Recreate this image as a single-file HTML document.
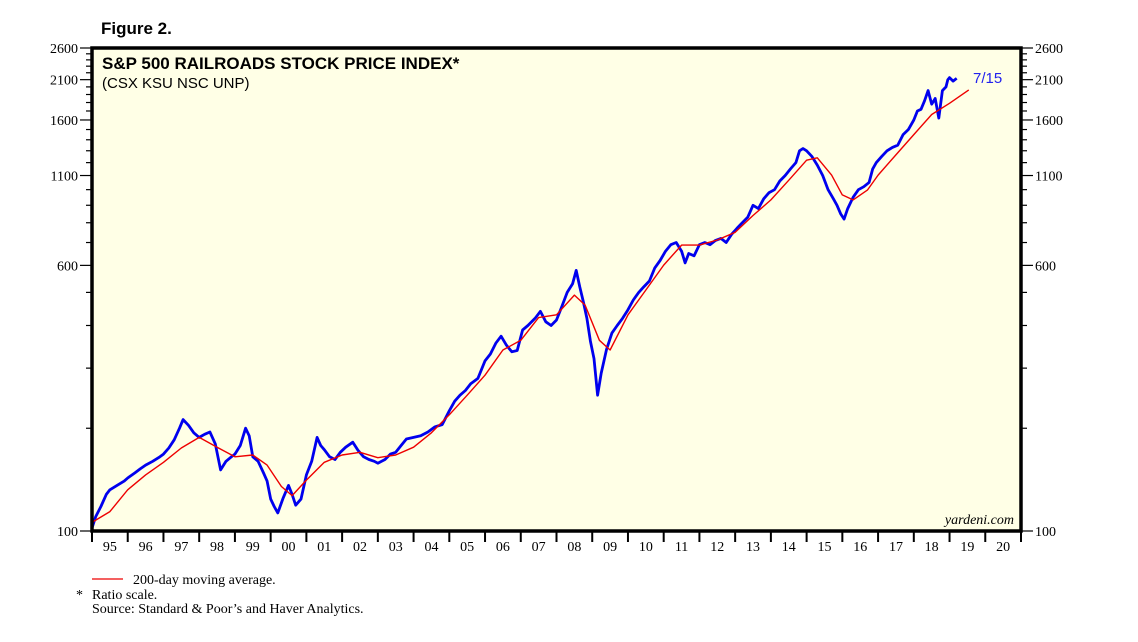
<!DOCTYPE html>
<html><head><meta charset="utf-8"><style>
body{margin:0;background:#fff;}
svg text{font-family:"Liberation Serif",serif;}
</style></head><body>
<svg width="1138" height="637" viewBox="0 0 1138 637">
<rect x="0" y="0" width="1138" height="637" fill="#fff"/>
<g id="g"></g>
</svg>
<script>
const blueDates=[1995.0,1995.1,1995.25,1995.4,1995.5,1995.7,1995.9,1996.0,1996.2,1996.35,1996.5,1996.7,1996.9,1997.0,1997.15,1997.3,1997.45,1997.55,1997.7,1997.85,1998.0,1998.15,1998.3,1998.45,1998.6,1998.75,1998.9,1999.0,1999.15,1999.3,1999.4,1999.5,1999.65,1999.8,1999.9,2000.0,2000.1,2000.2,2000.35,2000.5,2000.6,2000.7,2000.85,2001.0,2001.15,2001.3,2001.4,2001.5,2001.65,2001.8,2001.95,2002.1,2002.3,2002.45,2002.6,2002.75,2002.9,2003.0,2003.2,2003.35,2003.5,2003.65,2003.8,2004.0,2004.2,2004.4,2004.6,2004.8,2005.0,2005.15,2005.3,2005.45,2005.6,2005.8,2006.0,2006.15,2006.3,2006.45,2006.6,2006.75,2006.9,2007.05,2007.2,2007.4,2007.55,2007.7,2007.85,2008.0,2008.15,2008.3,2008.45,2008.55,2008.65,2008.75,2008.85,2008.95,2009.05,2009.15,2009.25,2009.4,2009.55,2009.7,2009.85,2010.0,2010.15,2010.3,2010.45,2010.6,2010.75,2010.9,2011.05,2011.2,2011.35,2011.5,2011.6,2011.7,2011.85,2012.0,2012.15,2012.3,2012.45,2012.6,2012.75,2012.9,2013.05,2013.2,2013.35,2013.5,2013.65,2013.8,2013.95,2014.1,2014.25,2014.4,2014.55,2014.7,2014.8,2014.9,2015.0,2015.15,2015.3,2015.45,2015.6,2015.75,2015.85,2015.95,2016.05,2016.15,2016.3,2016.45,2016.6,2016.75,2016.85,2016.95,2017.1,2017.25,2017.4,2017.55,2017.7,2017.85,2018.0,2018.1,2018.2,2018.3,2018.4,2018.5,2018.6,2018.7,2018.8,2018.9,2018.95,2019.0,2019.1,2019.2,2019.3,2019.4,2019.54];
const blueValues=[102,110,118,128,132,136,140,143,148,152,156,160,165,168,175,185,200,212,204,194,188,192,195,180,151,160,165,168,178,200,190,165,160,148,140,124,118,113,125,136,128,119,124,146,160,188,178,173,165,162,170,176,182,172,165,162,160,158,162,168,170,178,186,188,190,195,202,205,225,240,250,258,270,280,315,330,355,372,350,335,338,388,400,420,440,410,400,415,455,500,530,580,520,470,420,360,320,250,290,340,380,400,420,445,475,500,520,540,590,620,660,690,700,660,610,650,640,690,700,690,710,720,700,740,770,800,830,900,880,940,980,1000,1060,1100,1150,1200,1300,1320,1300,1250,1180,1100,1000,940,900,850,820,880,950,1000,1020,1050,1150,1200,1250,1300,1330,1350,1450,1500,1600,1700,1720,1820,1950,1780,1850,1620,1950,2000,2100,2130,2080,2120];
const maDates=[1995.0,1995.5,1996.0,1996.5,1997.0,1997.5,1998.0,1998.5,1999.0,1999.5,1999.9,2000.3,2000.6,2001.0,2001.5,2002.0,2002.5,2003.0,2003.5,2004.0,2004.5,2005.0,2005.5,2006.0,2006.5,2007.0,2007.5,2008.0,2008.5,2008.8,2009.2,2009.5,2010.0,2010.5,2011.0,2011.5,2012.0,2012.5,2013.0,2013.5,2014.0,2014.5,2015.0,2015.3,2015.7,2016.0,2016.3,2016.7,2017.0,2017.5,2018.0,2018.5,2019.0,2019.54];
const maValues=[106,114,132,146,159,175,188,176,165,167,156,135,127,141,159,167,170,164,167,176,194,219,250,286,339,362,422,430,491,459,362,339,430,508,601,688,688,712,750,840,933,1066,1220,1240,1103,965,933,997,1103,1264,1450,1660,1790,1960];
const yTicks=[100,600,1100,1600,2100,2600];
const yearLabels=["95","96","97","98","99","00","01","02","03","04","05","06","07","08","09","10","11","12","13","14","15","16","17","18","19","20"];

const L=92,R=1021,T=48,B=531;
const yS=v=>B-Math.log(v/100)/Math.log(26)*(B-T);
const xS=d=>L+(d-1995)*(R-L)/26;
const NS="http://www.w3.org/2000/svg";
const g=document.getElementById('g');
function el(tag,attrs,parent){const e=document.createElementNS(NS,tag);for(const k in attrs)e.setAttribute(k,attrs[k]);(parent||g).appendChild(e);return e;}

const bg=el('rect',{x:L,y:T,width:R-L,height:B-T,fill:'#ffffe6'});



for(let v=100;v<=2600;v+=100){
  const y=yS(v);const major=yTicks.includes(v);
  el('line',{x1:L-(major?12:6),x2:L,y1:y,y2:y,stroke:'#000','stroke-width':1.2});
  el('line',{x1:R,x2:R+(major?12:6),y1:y,y2:y,stroke:'#000','stroke-width':1.2});
}
yTicks.forEach(v=>{
  const t1=el('text',{x:L-14,y:yS(v)+5,'text-anchor':'end','font-size':14});t1.textContent=v;
  
  
  const t2=el('text',{x:R+14,y:yS(v)+5,'font-size':14});t2.textContent=v;
  
  
});
for(let i=0;i<=26;i++){const x=xS(1995+i);el('line',{x1:x,x2:x,y1:B,y2:B+11,stroke:'#000','stroke-width':2});}
yearLabels.forEach((s,i)=>{
  const t=el('text',{x:xS(1995.5+i),y:B+20,'text-anchor':'middle','font-size':14});t.textContent=s;
  
  
});

const pb=el('polyline',{points:blueDates.map((d,i)=>xS(d).toFixed(1)+','+yS(blueValues[i]).toFixed(1)).join(' '),fill:'none',stroke:'#0000ee','stroke-width':2.8,'stroke-linejoin':'round'});


const pm=el('polyline',{points:maDates.map((d,i)=>xS(d).toFixed(1)+','+yS(maValues[i]).toFixed(1)).join(' '),fill:'none',stroke:'#ee0000','stroke-width':1.4,'stroke-linejoin':'round'});



const fr=el('rect',{x:L,y:T,width:R-L,height:B-T,fill:'none',stroke:'#000','stroke-width':3.5});



function txt(name,x,y,s,attrs,sans){const t=el('text',Object.assign({x:x,y:y},attrs));t.textContent=s;if(sans)t.style.fontFamily='"Liberation Sans", sans-serif';return t;}
txt('figure-label',101,34,'Figure 2.',{'font-size':17,'font-weight':'bold'},true);
txt('chart-title',102,69,'S&P 500 RAILROADS STOCK PRICE INDEX*',{'font-size':17,'font-weight':'bold'},true);
txt('chart-subtitle',102,88,'(CSX KSU NSC UNP)',{'font-size':15},true);
txt('last-date-label',973,83,'7/15',{'font-size':15,fill:'#2222ee'},true);
txt('source-watermark',1014,524,'yardeni.com',{'font-size':14,'font-style':'italic','text-anchor':'end'});
const ll=el('line',{x1:92,x2:123,y1:579,y2:579,stroke:'#ee0000','stroke-width':1.2});


txt('legend-ma-label',133,584,'200-day moving average.',{'font-size':14});
txt('note-asterisk',76,599,'*',{'font-size':14});
txt('note-ratio-scale',92,599,'Ratio scale.',{'font-size':14});
txt('source-note',92,613,'Source: Standard & Poor\u2019s and Haver Analytics.',{'font-size':14});
</script>
</body></html>
